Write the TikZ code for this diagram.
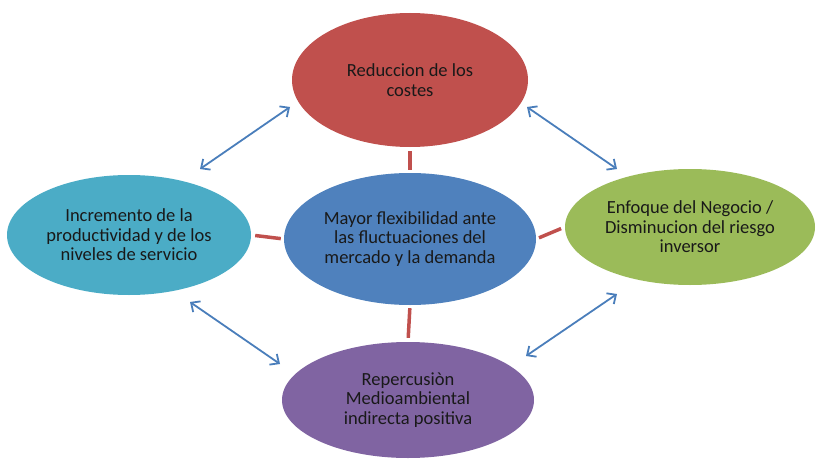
\documentclass[tikz,border=0pt]{standalone}
\usepackage{fontspec}
\setmainfont{Carlito}
\usetikzlibrary{arrows.meta,shapes.geometric}

\definecolor{costred}{HTML}{C0504D}
\definecolor{flexblue}{HTML}{4F81BD}
\definecolor{prodcyan}{HTML}{4BACC6}
\definecolor{negocgreen}{HTML}{9BBB59}
\definecolor{mediopurple}{HTML}{8064A2}
\definecolor{arrowblue}{HTML}{4A7EBB}

\begin{document}
\begin{tikzpicture}[x=1pt, y=-1pt,
            every node/.style={ellipse, inner sep=0pt, align=center,
                font=\fontsize{18.5}{19.5}\selectfont, text=black!90},
            link/.style={draw=costred, line width=3.5pt, shorten <=3pt, shorten >=4pt},
            both/.style={draw=arrowblue, line width=1.8pt,
                {Straight Barb[length=7pt,width=13pt]}-{Straight Barb[length=7pt,width=13pt]}}]
        \useasboundingbox (0,0) rectangle (817,460);

        \node[fill=costred, minimum width=236pt, minimum height=134pt] (costes) at (410,80)
            {Reduccion de los\\costes};
        \node[fill=flexblue, minimum width=252pt, minimum height=132pt] (flex) at (410,239)
            {Mayor flexibilidad ante\\las fluctuaciones del\\mercado y la demanda};
        \node[fill=prodcyan, minimum width=244pt, minimum height=120pt] (prod) at (129,235)
            {Incremento de la\\productividad y de los\\niveles de servicio};
        \node[fill=negocgreen, minimum width=250pt, minimum height=116pt] (negocio) at (690,227)
            {Enfoque del Negocio /\\Disminucion del riesgo\\inversor};
        \node[fill=mediopurple, minimum width=252pt, minimum height=116pt] (medio) at (408,400)
            {Repercusiòn\\Medioambiental\\indirecta positiva};

        \draw[link] (flex.north) -- (costes.south);
        \draw[link] (flex.west) -- (prod.east);
        \draw[link] (flex.east) -- (negocio.west);
        \draw[link] (flex.south) -- (medio.north);

        \coordinate (pc) at (200,169);
        \coordinate (cp) at (290,107);
        \coordinate (cn) at (527,107);
        \coordinate (nc) at (617,169);
        \coordinate (pm) at (190,302);
        \coordinate (mp) at (280,364);
        \coordinate (mn) at (526,356);
        \coordinate (nm) at (617,294);

        \draw[both] (pc) -- (cp);
        \draw[both] (cn) -- (nc);
        \draw[both] (pm) -- (mp);
        \draw[both] (mn) -- (nm);
\end{tikzpicture}
\end{document}
